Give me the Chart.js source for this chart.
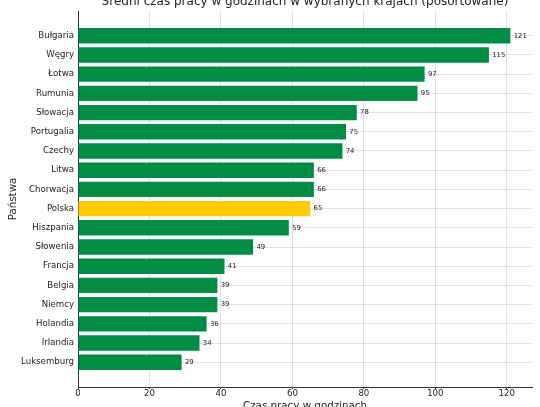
<!DOCTYPE html>
<html lang="pl">
<head>
  <meta charset="UTF-8">
  <title>Średni czas pracy</title>
  <script src="https://cdn.jsdelivr.net/npm/chart.js"></script>
  <style>
    html, body { margin: 0; padding: 0; background: #fff; overflow: hidden; }
    #wrap { position: absolute; left: 0; top: -20px; width: 540px; height: 447px; }
  </style>
</head>
<body>
  <div id="wrap"><canvas id="chartCanvas"></canvas></div>

  <script>
    // data
    const countries = ['Bułgaria', 'Węgry', 'Łotwa', 'Rumunia', 'Słowacja', 'Portugalia', 'Czechy', 'Litwa',
      'Chorwacja', 'Polska', 'Hiszpania', 'Słowenia', 'Francja', 'Belgia', 'Niemcy', 'Holandia', 'Irlandia', 'Luksemburg'];
    const hours = [121, 115, 97, 95, 78, 75, 74, 66, 66, 65, 59, 49, 41, 39, 39, 36, 34, 29];
    const xTicks = [0, 20, 40, 60, 80, 100, 120];
    const highlight = 'Polska';

    const green = '#008c45';
    const yellow = '#ffcc00';
    const font = 'DejaVu Sans';

    // numbers next to the bars
    const valueLabels = {
      id: 'valueLabels',
      afterDraw(chart) {
        const ctx = chart.ctx;
        const meta = chart.getDatasetMeta(0);
        ctx.save();
        ctx.font = '6.9px "' + font + '"';
        ctx.fillStyle = '#222';
        ctx.textAlign = 'left';
        ctx.textBaseline = 'middle';
        meta.data.forEach((bar, i) => {
          ctx.fillText(String(hours[i]), bar.x + 3.3, bar.y);
        });
        ctx.restore();
      }
    };

    const gridColor = 'rgba(170,170,170,0.35)';

    new Chart(document.getElementById('chartCanvas'), {
      type: 'bar',
      data: {
        datasets: [{
          data: hours.map((v, i) => ({ x: v, y: i })),
          backgroundColor: countries.map(c => c === highlight ? yellow : green),
          borderWidth: 0,
          categoryPercentage: 0.8,
          barPercentage: 1
        }]
      },
      plugins: [valueLabels],
      options: {
        indexAxis: 'y',
        responsive: true,
        maintainAspectRatio: false,
        animation: false,
        layout: { padding: { left: 0, right: 8, top: 0, bottom: 0 } },
        plugins: {
          legend: { display: false },
          tooltip: { enabled: false },
          title: {
            display: true,
            fullSize: false,
            text: 'Średni czas pracy w godzinach w wybranych krajach (posortowane)',
            color: '#222',
            font: { family: font, size: 12, weight: 'normal' },
            padding: { top: 14.3, bottom: 2.3 }
          }
        },
        scales: {
          x: {
            type: 'linear',
            position: 'bottom',
            min: 0,
            max: 127.05,
            z: 1,
            afterBuildTicks: s => { s.ticks = xTicks.map(v => ({ value: v })); },
            afterFit: s => { s.height = 40; },
            grid: { color: gridColor, lineWidth: 1, tickLength: 2, tickColor: '#333', drawTicks: true },
            border: { display: true, color: '#333', width: 1 },
            ticks: { color: '#222', padding: 0, font: { family: font, size: 8.6 } },
            title: {
              display: true,
              text: 'Czas pracy w godzinach',
              color: '#222',
              font: { family: font, size: 10.3 },
              padding: { top: 0, bottom: 14.3 }
            }
          },
          y: {
            type: 'linear',
            position: 'left',
            reverse: true,
            offset: false,
            min: -1.29,
            max: 18.29,
            z: 1,
            afterBuildTicks: s => { s.ticks = countries.map((c, i) => ({ value: i })); },
            afterFit: s => { s.width = 78; },
            grid: { color: gridColor, lineWidth: 1, drawTicks: false, offset: false },
            border: { display: true, color: '#333', width: 1 },
            ticks: {
              color: '#222',
              padding: 4,
              autoSkip: false,
              font: { family: font, size: 8.6 },
              callback: v => countries[v]
            },
            title: {
              display: true,
              text: 'Państwa',
              color: '#222',
              font: { family: font, size: 10.3 },
              padding: { top: 6.8, bottom: 0 }
            }
          }
        }
      }
    });
  </script>
</body>
</html>
